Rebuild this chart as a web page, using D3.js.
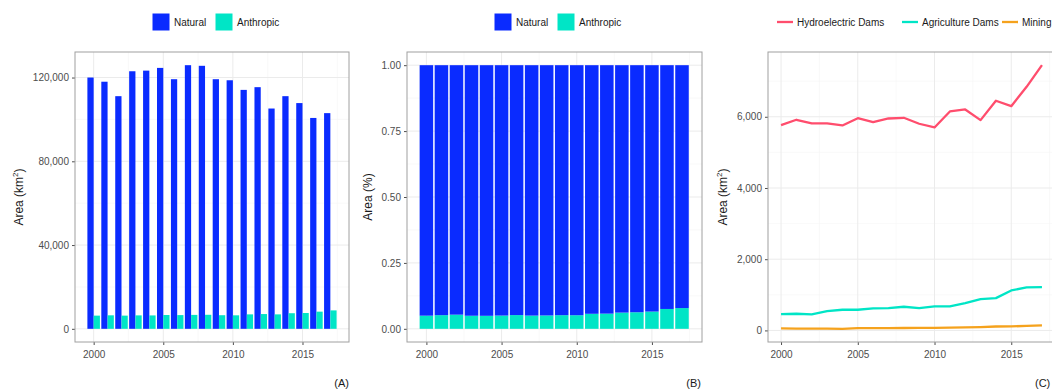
<!DOCTYPE html>
<html>
<head>
<meta charset="utf-8">
<script src="https://cdnjs.cloudflare.com/ajax/libs/d3/7.8.5/d3.min.js"></script>
<style>
  body { margin: 0; background: #fff; }
  svg { font-family: "Liberation Sans", Arial, sans-serif; }
  .grid-major { stroke: #ebebeb; stroke-width: 1; }
  .grid-minor { stroke: #f5f5f5; stroke-width: 0.6; }
  .tick-label { fill: #4d4d4d; font-size: 10px; }
  .axis-title { fill: #1a1a1a; font-size: 12px; }
  .legend-text { fill: #1a1a1a; font-size: 10px; }
</style>
</head>
<body>
<svg id="chart" width="1052" height="389"></svg>
<script>
// years on x
const years = d3.range(2000, 2018);

// panel A / B: area by class (km2)
const natural = [120000, 118000, 111100, 123000, 123300, 124600, 119200, 125900, 125600,
                 119200, 118700, 114100, 115400, 105200, 111100, 107800, 100700, 103000];
const anthropic = [6300, 6450, 6300, 6420, 6400, 6600, 6550, 6650, 6700,
                   6500, 6450, 6900, 7050, 6900, 7450, 7550, 8200, 8800];

// panel C: anthropic area by type (km2)
const hydro = [5764, 5916, 5812, 5812, 5756, 5961, 5848, 5952, 5972,
               5804, 5700, 6149, 6205, 5905, 6449, 6298, 6842, 7449];
const agriculture = [458, 468, 449, 542, 580, 580, 618, 627, 665,
                     627, 674, 674, 767, 879, 907, 1123, 1207, 1216];
const mining = [55, 50, 48, 50, 45, 62, 65, 66, 68, 70, 72, 78, 85, 95, 110, 112, 128, 140];

const classes = ["Natural", "Anthropic"];
const classColors = { Natural: "#0a2bff", Anthropic: "#00e5c6" };
const damTypes = ["Hydroelectric Dams", "Agriculture Dams", "Mining"];
const damColors = { "Hydroelectric Dams": "#ff4d6d", "Agriculture Dams": "#00e5c6", "Mining": "#f5a21d" };

const svg = d3.select("#chart");
const fmt = d3.format(",");

const classData = years.map((y, i) => ({ year: y, Natural: natural[i], Anthropic: anthropic[i] }));

// draws panel background, grid, border, axes
function makePanel(box, x, y, xMajor, xMinor, yMajor, yMinor, yFmt) {
  const g = svg.append("g");
  const clip = "clip" + Math.round(box.left);
  svg.append("clipPath").attr("id", clip)
    .append("rect").attr("x", box.left).attr("y", box.top)
    .attr("width", box.right - box.left).attr("height", box.bottom - box.top);

  const grid = g.append("g").attr("clip-path", `url(#${clip})`);
  grid.selectAll("line.xm").data(xMinor).enter().append("line")
    .attr("class", "grid-minor").attr("x1", x).attr("x2", x)
    .attr("y1", box.top).attr("y2", box.bottom);
  grid.selectAll("line.ym").data(yMinor).enter().append("line")
    .attr("class", "grid-minor").attr("y1", y).attr("y2", y)
    .attr("x1", box.left).attr("x2", box.right);
  grid.selectAll("line.xM").data(xMajor).enter().append("line")
    .attr("class", "grid-major").attr("x1", x).attr("x2", x)
    .attr("y1", box.top).attr("y2", box.bottom);
  grid.selectAll("line.yM").data(yMajor).enter().append("line")
    .attr("class", "grid-major").attr("y1", y).attr("y2", y)
    .attr("x1", box.left).attr("x2", box.right);

  const marks = svg.append("g").attr("clip-path", `url(#${clip})`);

  // axes
  const xAxis = svg.append("g").attr("transform", `translate(0,${box.bottom})`)
    .call(d3.axisBottom(x).tickValues(xMajor).tickFormat(d3.format("d")).tickSize(3).tickPadding(4));
  const yAxis = svg.append("g").attr("transform", `translate(${box.left},0)`)
    .call(d3.axisLeft(y).tickValues(yMajor).tickFormat(yFmt).tickSize(3).tickPadding(3));
  [xAxis, yAxis].forEach(a => {
    a.select(".domain").remove();
    a.selectAll(".tick line").attr("stroke", "#4d4d4d");
    a.selectAll(".tick text").attr("class", "tick-label").attr("fill", null).style("font-size", "10px");
  });
  xAxis.selectAll(".tick text").attr("dy", "0.9em");

  return { marks, border: () => svg.append("rect")
    .attr("x", box.left).attr("y", box.top)
    .attr("width", box.right - box.left).attr("height", box.bottom - box.top)
    .attr("fill", "none").attr("stroke", "#a0a0a0").attr("stroke-width", 1) };
}

function legendBoxes(startX, cy) {
  let cx = startX;
  const widths = { Natural: 37, Anthropic: 50 };
  classes.forEach(c => {
    svg.append("rect").attr("x", cx).attr("y", cy - 9).attr("width", 18).attr("height", 18)
      .attr("fill", classColors[c]).attr("stroke", "#fff");
    svg.append("text").attr("class", "legend-text").attr("x", cx + 22).attr("y", cy + 3.5).text(c);
    cx += 22 + widths[c] + 4;
  });
}

function yTitle(xPos, cy, pct) {
  const t = svg.append("text").attr("class", "axis-title")
    .attr("transform", `translate(${xPos},${cy}) rotate(-90)`)
    .attr("text-anchor", "middle");
  if (pct) { t.text("Area (%)"); return; }
  t.append("tspan").text("Area (km");
  t.append("tspan").attr("dy", -5).style("font-size", "8px").text("2");
  t.append("tspan").attr("dy", 5).text(")");
}

function panelTag(xPos, label, anchor) {
  svg.append("text").attr("x", xPos).attr("y", 387).attr("text-anchor", anchor)
    .style("font-size", "11px").attr("fill", "#1a1a1a").text(label);
}

const minorYears = [2002.5, 2007.5, 2012.5, 2017.5];
const majorYears = [2000, 2005, 2010, 2015];

// ---------- Panel A: dodged bars ----------
(function () {
  const box = { left: 75, right: 349, top: 52, bottom: 342 };
  const x = d3.scaleLinear().domain([1998.66, 2018.34]).range([box.left, box.right]);
  const maxV = d3.max(natural);
  const y = d3.scaleLinear().domain([-0.05 * maxV, 1.05 * maxV]).range([box.bottom, box.top]);
  const p = makePanel(box, x, y, majorYears, minorYears,
    [0, 40000, 80000, 120000], [20000, 60000, 100000], fmt);
  const bw = 0.45;
  classes.forEach((c, k) => {
    p.marks.selectAll("rect.a" + k).data(classData).enter().append("rect")
      .attr("x", d => x(d.year - 0.45 + k * bw))
      .attr("width", x(bw) - x(0))
      .attr("y", d => y(d[c]))
      .attr("height", d => y(0) - y(d[c]))
      .attr("fill", classColors[c]);
  });
  p.border();
  legendBoxes(152, 22);
  yTitle(23, 197, false);
  panelTag(349, "(A)", "end");
})();

// ---------- Panel B: filled stack ----------
(function () {
  const box = { left: 407, right: 702, top: 52, bottom: 342 };
  const x = d3.scaleLinear().domain([1998.71, 2018.33]).range([box.left, box.right]);
  const y = d3.scaleLinear().domain([-0.05, 1.05]).range([box.bottom, box.top]);
  const p = makePanel(box, x, y, majorYears, minorYears,
    [0, 0.25, 0.5, 0.75, 1], [0.125, 0.375, 0.625, 0.875], d3.format(".2f"));
  const stack = d3.stack().keys(["Anthropic", "Natural"]).offset(d3.stackOffsetExpand);
  const series = stack(classData);
  series.forEach(s => {
    p.marks.selectAll("rect." + s.key).data(s).enter().append("rect")
      .attr("x", d => x(d.data.year - 0.45))
      .attr("width", x(0.9) - x(0))
      .attr("y", d => y(d[1]))
      .attr("height", d => y(d[0]) - y(d[1]))
      .attr("fill", classColors[s.key]);
  });
  p.border();
  legendBoxes(494, 22);
  yTitle(372, 197, true);
  panelTag(701, "(B)", "end");
})();

// ---------- Panel C: lines ----------
(function () {
  const box = { left: 768, right: 1055, top: 52, bottom: 342 };
  const x = d3.scaleLinear().domain([1999.15, 2017.85]).range([box.left, box.right]);
  const all = hydro.concat(agriculture, mining);
  const lo = d3.min(all), hi = d3.max(all), pad = 0.05 * (hi - lo);
  const y = d3.scaleLinear().domain([lo - pad, hi + pad]).range([box.bottom, box.top]);
  const p = makePanel(box, x, y, majorYears, minorYears,
    [0, 2000, 4000, 6000], [1000, 3000, 5000, 7000], fmt);
  const seriesC = { "Hydroelectric Dams": hydro, "Agriculture Dams": agriculture, "Mining": mining };
  const line = d3.line().x((d, i) => x(years[i])).y(d => y(d));
  damTypes.slice().reverse().forEach(k => {
    p.marks.append("path").datum(seriesC[k]).attr("d", line)
      .attr("fill", "none").attr("stroke", damColors[k]).attr("stroke-width", 2.3)
      .attr("stroke-linejoin", "round");
  });
  p.border();
  // legend
  const legendX = [777, 902, 1002];
  damTypes.forEach((k, i) => {
    svg.append("line").attr("x1", legendX[i]).attr("x2", legendX[i] + 16)
      .attr("y1", 22).attr("y2", 22).attr("stroke", damColors[k]).attr("stroke-width", 2.3);
    svg.append("text").attr("class", "legend-text").attr("x", legendX[i] + 20).attr("y", 25.5).text(k);
  });
  yTitle(727, 197, false);
  panelTag(1035, "(C)", "start");
})();
</script>
</body>
</html>
